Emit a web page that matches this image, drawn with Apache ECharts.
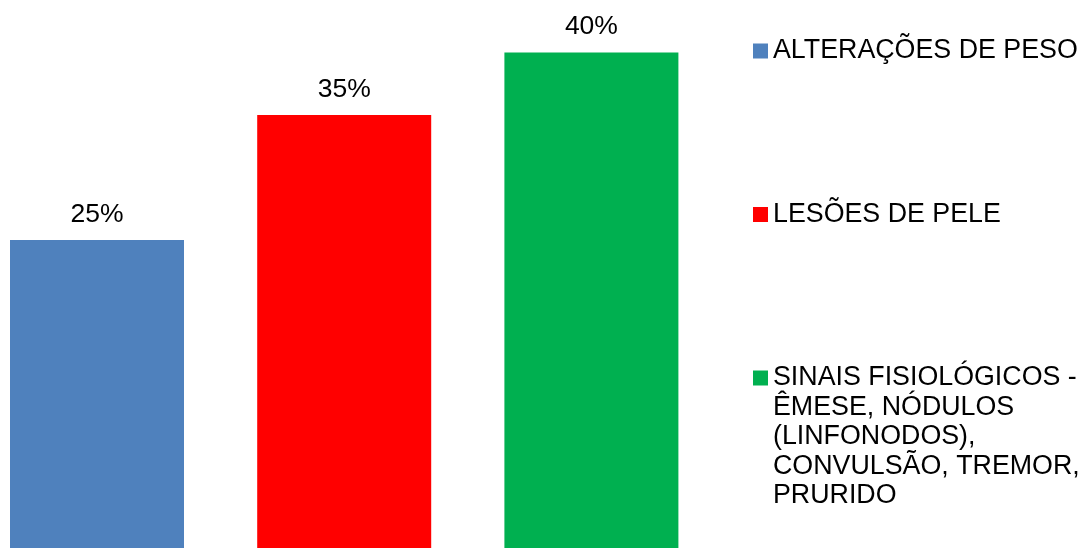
<!DOCTYPE html>
<html>
<head>
<meta charset="utf-8">
<script src="https://cdn.jsdelivr.net/npm/echarts@6/dist/echarts.min.js"></script>
<style>
  html, body { margin: 0; padding: 0; background: #fff; }
  #chart { width: 1080px; height: 548px; }
</style>
</head>
<body>
<div id="chart"></div>
<script>
// Categories (one per bar) and their percentages
const categories = [
  'ALTERAÇÕES DE PESO',
  'LESÕES DE PELE',
  'SINAIS FISIOLÓGICOS - ÊMESE, NÓDULOS (LINFONODOS), CONVULSÃO, TREMOR, PRURIDO'
];
const values = [25, 35, 40];
const colors = ['#4F81BD', '#FF0000', '#00B050'];
// Wrapped legend text for each category
const legendLabels = [
  'ALTERAÇÕES DE PESO',
  'LESÕES DE PELE',
  'SINAIS FISIOLÓGICOS -\nÊMESE, NÓDULOS\n(LINFONODOS),\nCONVULSÃO, TREMOR,\nPRURIDO'
];

const FONT = '"Liberation Sans", Arial, sans-serif';
const LEGEND_LINE = 29.5;

// One series per category, stacked so every bar sits centred in its slot
const series = categories.map((name, i) => ({
  name: name,
  type: 'bar',
  stack: 'total',
  barWidth: 174,
  itemStyle: { color: colors[i] },
  data: values.map((v, j) => (j === i ? v : null)),
  label: {
    show: true,
    position: 'top',
    distance: 12,
    formatter: '{c}%',
    color: '#000',
    fontSize: 26.5,
    fontFamily: FONT
  }
}));

// Legend entries placed one by one down the right side; a wrapped entry gets
// blank leading lines so its marker lines up with the first line of text
const legendCenters = [51, 214.5, 378];
const legends = categories.map((name, i) => {
  const lines = legendLabels[i].split('\n').length;
  const pad = '\n'.repeat(lines - 1);
  const boxH = (2 * lines - 1) * LEGEND_LINE;
  return {
    data: [name],
    orient: 'vertical',
    left: 753,
    top: legendCenters[i] - Math.max(boxH / 2, 7.5),
    padding: 0,
    itemWidth: 15,
    itemHeight: 15,
    icon: 'rect',
    selectedMode: false,
    formatter: () => pad + legendLabels[i],
    textStyle: {
      color: '#000',
      fontSize: 26.8,
      fontFamily: FONT,
      lineHeight: LEGEND_LINE
    }
  };
});

const chart = echarts.init(document.getElementById('chart'), null, { renderer: 'canvas' });
chart.setOption({
  animation: false,
  backgroundColor: '#fff',
  grid: {
    left: -26.6, right: 365, top: 2.5, bottom: -4.5,
    containLabel: false,
    outerBoundsMode: 'none'
  },
  xAxis: {
    type: 'category',
    data: categories,
    show: false
  },
  yAxis: {
    type: 'value',
    min: 0,
    max: 44,
    show: false
  },
  legend: legends,
  series: series
});
</script>
</body>
</html>
